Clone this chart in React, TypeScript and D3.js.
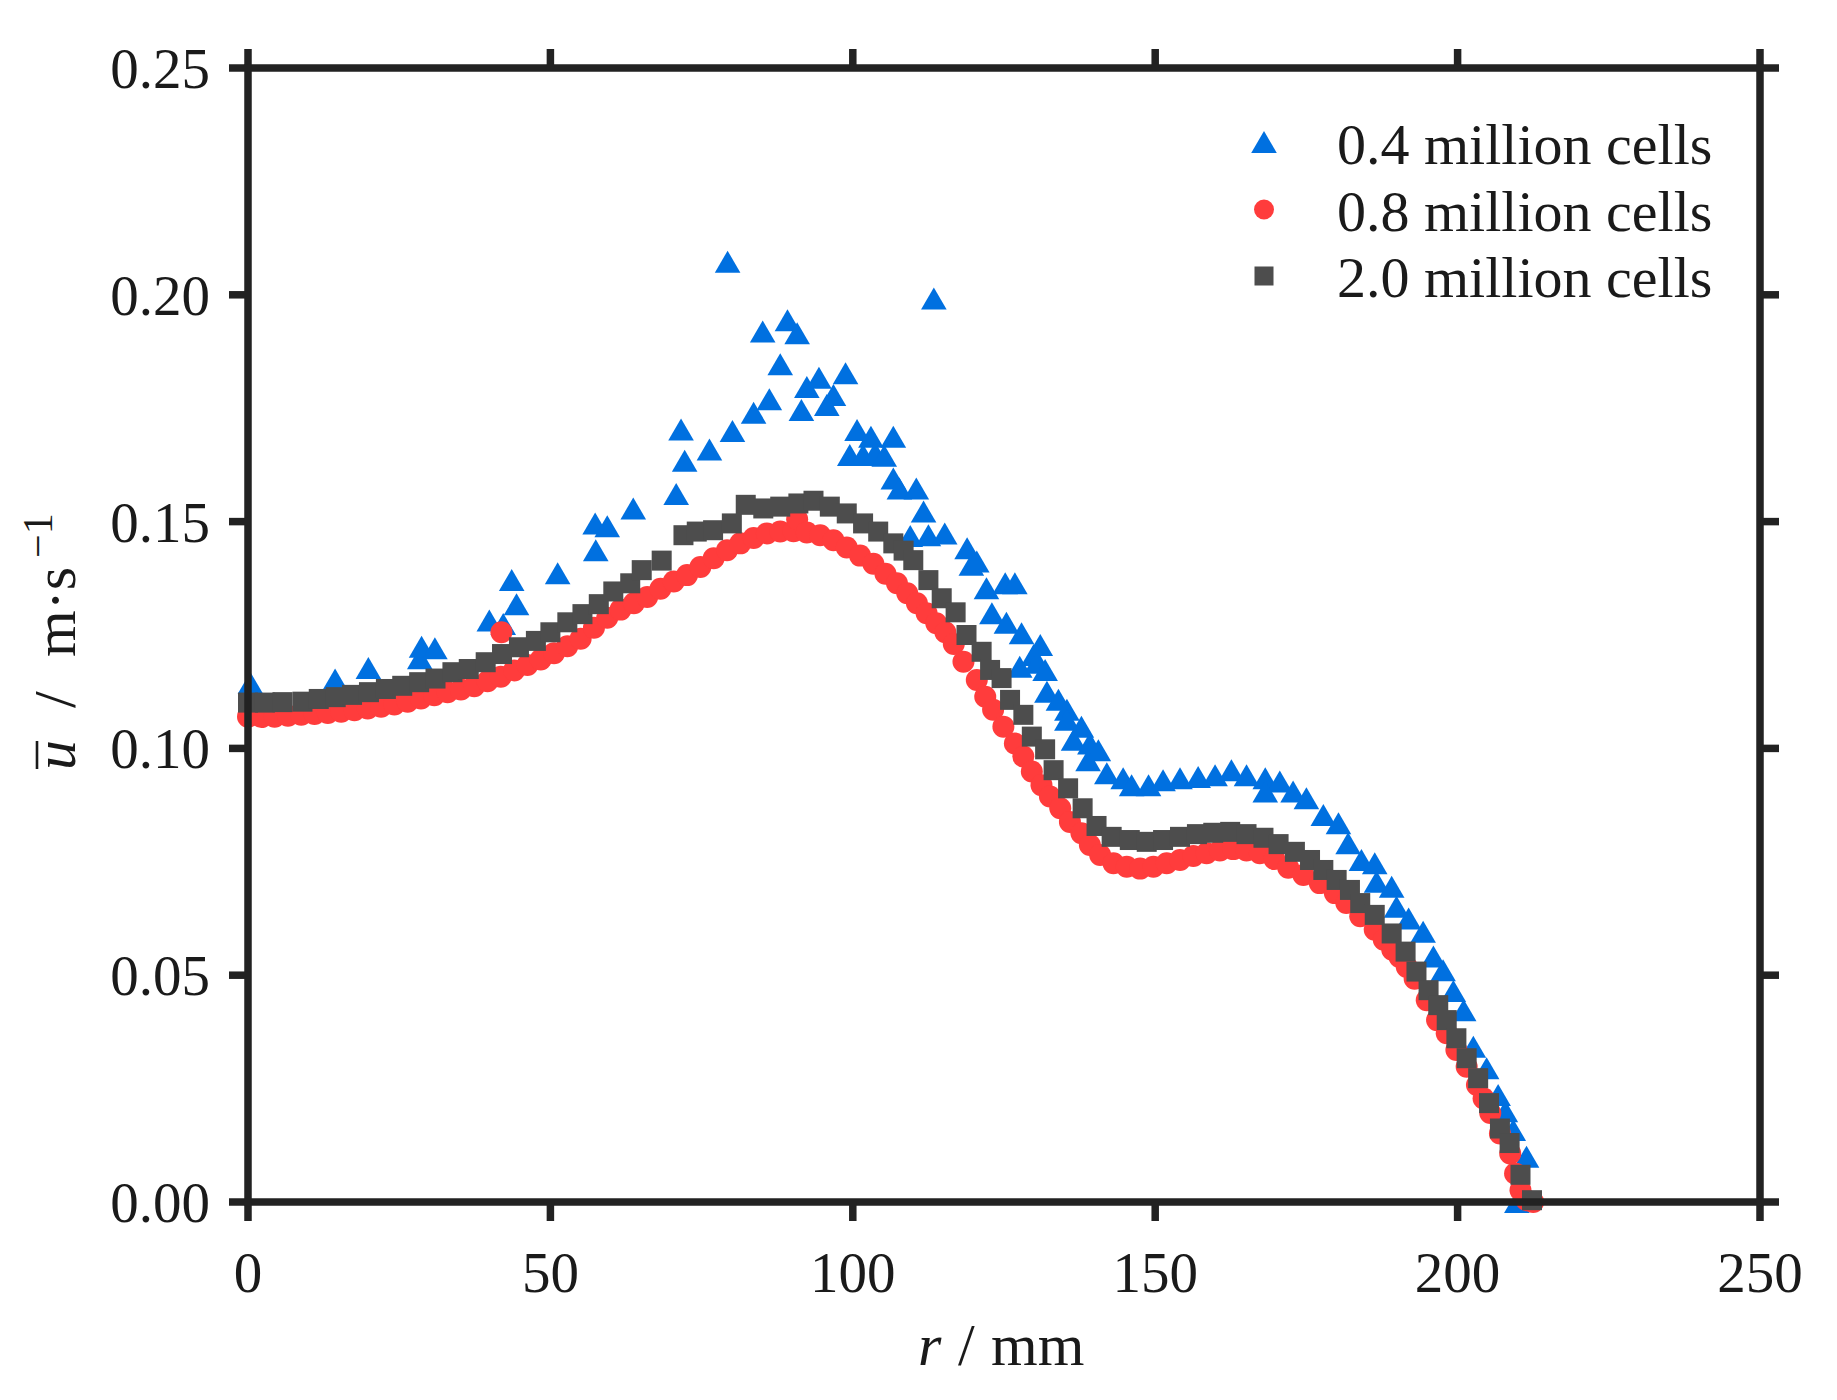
import React from "react";
import * as d3 from "d3";

// ---- data ----
const xTicks = [0, 50, 100, 150, 200, 250];
const yTicks = [0, 0.05, 0.1, 0.15, 0.2, 0.25];
const seriesNames = ["0.4 million cells", "0.8 million cells", "2.0 million cells"];

const blueR = [0.4, 14.4, 19.9, 28.4, 28.7, 30.9, 39.9, 42.2, 43.6, 44.4, 51.2, 57.4, 57.5, 59.4, 63.7, 70.8, 71.6, 72.2, 76.3, 79.3, 80.1, 83.6, 85.1, 86.2, 88.0, 89.2, 90.8, 91.5, 92.4, 94.4, 95.7, 96.8, 98.8, 99.5, 100.7, 101.7, 103.0, 103.7, 105.2, 106.7, 106.7, 107.7, 109.5, 110.5, 111.7, 112.5, 113.4, 115.2, 118.9, 119.6, 120.5, 122.1, 123.0, 125.2, 125.4, 126.8, 127.6, 127.9, 129.9, 130.4, 131.0, 131.8, 132.1, 134.0, 135.4, 135.4, 136.5, 137.8, 138.9, 139.2, 140.6, 142.0, 144.7, 146.1, 148.9, 151.3, 154.1, 157.1, 159.9, 162.6, 165.1, 168.2, 168.2, 170.6, 172.8, 175.0, 177.8, 180.3, 181.9, 184.1, 186.3, 186.6, 189.1, 189.9, 191.9, 194.3, 196.0, 197.6, 199.3, 201.0, 202.6, 204.8, 206.7, 207.9, 209.2, 211.4, 209.8];
const blueU = [0.1144, 0.1152, 0.1177, 0.1199, 0.1224, 0.1221, 0.1282, 0.1274, 0.1371, 0.1318, 0.1386, 0.1496, 0.1437, 0.149, 0.1529, 0.1561, 0.1703, 0.1634, 0.1659, 0.2073, 0.17, 0.174, 0.1919, 0.177, 0.1847, 0.1944, 0.1915, 0.1746, 0.1797, 0.1817, 0.1757, 0.1779, 0.1827, 0.1647, 0.1702, 0.1647, 0.1687, 0.1651, 0.1645, 0.1687, 0.1595, 0.1573, 0.1468, 0.1573, 0.1522, 0.147, 0.1992, 0.1474, 0.1441, 0.1405, 0.1412, 0.1353, 0.1298, 0.1364, 0.1277, 0.1364, 0.118, 0.1254, 0.1206, 0.1189, 0.1228, 0.1173, 0.1125, 0.1107, 0.1085, 0.1063, 0.1019, 0.1048, 0.0974, 0.1011, 0.0996, 0.0945, 0.0934, 0.0919, 0.0919, 0.093, 0.0934, 0.0937, 0.0941, 0.0952, 0.0941, 0.0934, 0.0905, 0.0927, 0.0905, 0.089, 0.0853, 0.0835, 0.0791, 0.0754, 0.0747, 0.0706, 0.0695, 0.0651, 0.0625, 0.0596, 0.0541, 0.0511, 0.0465, 0.0423, 0.0342, 0.0295, 0.0236, 0.02, 0.0159, 0.01, 0.0];

const redR = [0.0, 2.2, 4.4, 6.6, 8.8, 11.0, 13.2, 15.4, 17.6, 19.8, 22.0, 24.2, 26.4, 28.6, 30.8, 33.0, 35.2, 37.4, 39.6, 41.8, 41.9, 44.0, 46.2, 48.4, 50.6, 52.8, 55.0, 57.2, 59.4, 61.6, 63.8, 66.0, 68.2, 70.4, 72.6, 74.8, 77.0, 79.2, 81.4, 83.6, 85.8, 88.0, 90.2, 90.8, 92.4, 94.6, 96.8, 99.0, 101.2, 103.4, 105.4, 107.3, 109.0, 110.6, 112.2, 113.8, 115.3, 116.7, 118.3, 120.5, 121.9, 123.2, 124.9, 126.8, 128.2, 129.6, 131.2, 132.6, 134.3, 135.9, 137.8, 139.2, 140.9, 143.1, 145.3, 147.5, 149.7, 151.9, 154.1, 156.3, 158.5, 160.7, 162.9, 165.1, 167.3, 169.7, 172.0, 174.5, 177.2, 179.7, 181.6, 183.9, 186.3, 187.8, 189.2, 190.4, 191.6, 192.9, 194.9, 196.6, 198.2, 199.8, 201.5, 203.2, 204.3, 205.4, 207.0, 208.7, 209.5, 210.4, 211.4, 212.5];
const redU = [0.107, 0.1069, 0.107, 0.1072, 0.1074, 0.1076, 0.1078, 0.1081, 0.1084, 0.1088, 0.1092, 0.1097, 0.1103, 0.111, 0.1117, 0.1124, 0.113, 0.1137, 0.1148, 0.1158, 0.1256, 0.1172, 0.1184, 0.1196, 0.121, 0.1225, 0.1242, 0.1266, 0.1288, 0.1306, 0.132, 0.1334, 0.1352, 0.1368, 0.1382, 0.14, 0.1419, 0.1437, 0.1452, 0.1464, 0.1474, 0.1478, 0.1479, 0.1505, 0.1476, 0.147, 0.1459, 0.1443, 0.1425, 0.1407, 0.1385, 0.1364, 0.1342, 0.132, 0.1298, 0.1276, 0.1256, 0.123, 0.1191, 0.1151, 0.1114, 0.1085, 0.1048, 0.1011, 0.0982, 0.0949, 0.0919, 0.0894, 0.0868, 0.0838, 0.0813, 0.0787, 0.0765, 0.0747, 0.0739, 0.0735, 0.0739, 0.0747, 0.0754, 0.0763, 0.0769, 0.0775, 0.0778, 0.0775, 0.0769, 0.0756, 0.0737, 0.0721, 0.0703, 0.0681, 0.0659, 0.063, 0.06, 0.0578, 0.0556, 0.054, 0.0518, 0.0492, 0.0445, 0.0401, 0.0372, 0.0335, 0.0298, 0.0258, 0.0228, 0.0196, 0.0151, 0.0107, 0.0063, 0.0026, 0.0004, 0.0];

const grayR = [0.0, 2.8, 5.7, 9.0, 11.7, 14.5, 17.2, 20.0, 22.8, 25.5, 28.3, 31.0, 33.8, 36.5, 39.3, 42.0, 44.8, 47.6, 50.0, 52.8, 55.3, 58.0, 60.4, 63.2, 65.1, 68.4, 72.0, 74.2, 76.9, 80.0, 82.3, 85.2, 88.0, 91.0, 93.5, 96.2, 99.0, 101.7, 104.2, 106.7, 108.4, 110.0, 112.5, 114.7, 117.0, 118.8, 121.3, 122.7, 124.6, 126.0, 128.2, 129.6, 131.8, 133.2, 135.6, 138.0, 140.3, 142.8, 145.8, 148.6, 151.3, 154.1, 156.9, 159.6, 162.4, 165.1, 167.9, 170.4, 173.1, 175.6, 177.8, 180.0, 182.2, 183.9, 186.3, 189.1, 191.4, 193.2, 195.2, 196.8, 198.2, 199.8, 201.5, 203.4, 205.2, 207.0, 208.6, 210.4, 212.3];
const grayU = [0.1101, 0.1101, 0.1102, 0.1103, 0.1109, 0.1113, 0.1118, 0.1124, 0.1131, 0.1138, 0.1146, 0.1154, 0.1168, 0.1175, 0.119, 0.1208, 0.1223, 0.1237, 0.1256, 0.1278, 0.1296, 0.1318, 0.1346, 0.1364, 0.1393, 0.1414, 0.147, 0.1478, 0.1481, 0.1496, 0.1537, 0.1529, 0.1533, 0.154, 0.1546, 0.1533, 0.1518, 0.1496, 0.1478, 0.1452, 0.1436, 0.1415, 0.1371, 0.1331, 0.13, 0.125, 0.1213, 0.1173, 0.1155, 0.1107, 0.1074, 0.1026, 0.0998, 0.0952, 0.0912, 0.0868, 0.0829, 0.0805, 0.0798, 0.0794, 0.0798, 0.0805, 0.0811, 0.0814, 0.0816, 0.0811, 0.0803, 0.0789, 0.0772, 0.0754, 0.0732, 0.071, 0.0688, 0.0659, 0.0633, 0.0592, 0.0552, 0.0508, 0.0467, 0.0434, 0.0401, 0.0361, 0.0317, 0.0273, 0.0218, 0.0162, 0.013, 0.006, 0.0004];

// ---- styles ----
const BLUE = "#0070E0";
const RED = "#FF3C3C";
const GRAY = "#4D4D4D";
const AXIS = "#222222";
const TEXT = "#1a1a1a";
const FONT = "'Liberation Serif', 'Times New Roman', serif";

const W = 1837;
const H = 1400;
const X0 = 248, X1 = 1760, Y0 = 1202, Y1 = 68;
const AX_W = 7.5;
const TICK = 19;
const FS = 57;
const CIRC_R = 11;
const SQ = 20;

const x = d3.scaleLinear().domain([0, 250]).range([X0, X1]);
const y = d3.scaleLinear().domain([0, 0.25]).range([Y0, Y1]);

const triPath = (cx: number, cy: number) => {
  const p = d3.path();
  p.moveTo(cx, cy - 11);
  p.lineTo(cx - 12.8, cy + 11);
  p.lineTo(cx + 12.8, cy + 11);
  p.closePath();
  return p.toString();
};

export default function App() {
  const fmt = d3.format(".2f");
  const blue = blueR.map((r, i) => [r, blueU[i]]);
  const red = redR.map((r, i) => [r, redU[i]]);
  const gray = grayR.map((r, i) => [r, grayU[i]]);

  const legendRows = [164, 230.5, 297];
  const legendMarkX = 1264;
  const legendTextX = 1337;

  return (
    <svg
      width={W}
      height={H}
      viewBox={`0 0 ${W} ${H}`}
      style={{ position: "absolute", left: 0, top: 0, background: "#fff" }}
      fontFamily={FONT}
    >
      <rect x={0} y={0} width={W} height={H} fill="#fff" />

      {/* data */}
      <g>
        {blue.map(([r, u], i) => (
          <path key={"b" + i} d={triPath(x(r), y(u))} fill={BLUE} />
        ))}
      </g>
      <g>
        {red.map(([r, u], i) => (
          <circle key={"r" + i} cx={x(r)} cy={y(u)} r={CIRC_R} fill={RED} />
        ))}
      </g>
      <g>
        {gray.map(([r, u], i) => (
          <rect key={"g" + i} x={x(r) - SQ / 2} y={y(u) - SQ / 2} width={SQ} height={SQ} fill={GRAY} />
        ))}
      </g>

      {/* frame */}
      <rect x={X0} y={Y1} width={X1 - X0} height={Y0 - Y1} fill="none" stroke={AXIS} strokeWidth={AX_W} />

      {/* ticks */}
      {xTicks.map((t) => (
        <g key={"xt" + t}>
          <line x1={x(t)} x2={x(t)} y1={Y0} y2={Y0 + TICK} stroke={AXIS} strokeWidth={AX_W} />
          <line x1={x(t)} x2={x(t)} y1={Y1} y2={Y1 - TICK} stroke={AXIS} strokeWidth={AX_W} />
          <text x={x(t)} y={1292} textAnchor="middle" fontSize={FS} fill={TEXT}>
            {t}
          </text>
        </g>
      ))}
      {yTicks.map((t) => (
        <g key={"yt" + t}>
          <line x1={X0} x2={X0 - TICK} y1={y(t)} y2={y(t)} stroke={AXIS} strokeWidth={AX_W} />
          <line x1={X1} x2={X1 + TICK} y1={y(t)} y2={y(t)} stroke={AXIS} strokeWidth={AX_W} />
          <text x={210} y={y(t) + 20} textAnchor="end" fontSize={FS} fill={TEXT}>
            {fmt(t)}
          </text>
        </g>
      ))}

      {/* x label */}
      <text y={1365} fontSize={60} fill={TEXT}>
        <tspan x={918} fontStyle="italic">r</tspan>
        <tspan x={958}>/</tspan>
        <tspan x={991}>mm</tspan>
      </text>

      {/* y label */}
      <g transform="rotate(-90)">
        <text y={75} fontSize={60} fill={TEXT}>
          <tspan x={-770} fontStyle="italic">u</tspan>
          <tspan x={-708}>/</tspan>
          <tspan x={-657}>m·s</tspan>
        </text>
        <line x1={-769} x2={-741} y1={37} y2={37} stroke={TEXT} strokeWidth={2.6} />
        <text y={52} fontSize={42} fill={TEXT}>
          <tspan x={-558}>−1</tspan>
        </text>
      </g>

      {/* legend */}
      <path d={triPath(legendMarkX, legendRows[0] - 22)} fill={BLUE} />
      <circle cx={legendMarkX} cy={legendRows[1] - 21} r={CIRC_R - 1} fill={RED} />
      <rect x={legendMarkX - 9.5} y={legendRows[2] - 21 - 9.5} width={19} height={19} fill={GRAY} />
      {seriesNames.map((s, i) => (
        <text key={s} x={legendTextX} y={legendRows[i]} fontSize={58} fill={TEXT}>
          {s}
        </text>
      ))}
    </svg>
  );
}
